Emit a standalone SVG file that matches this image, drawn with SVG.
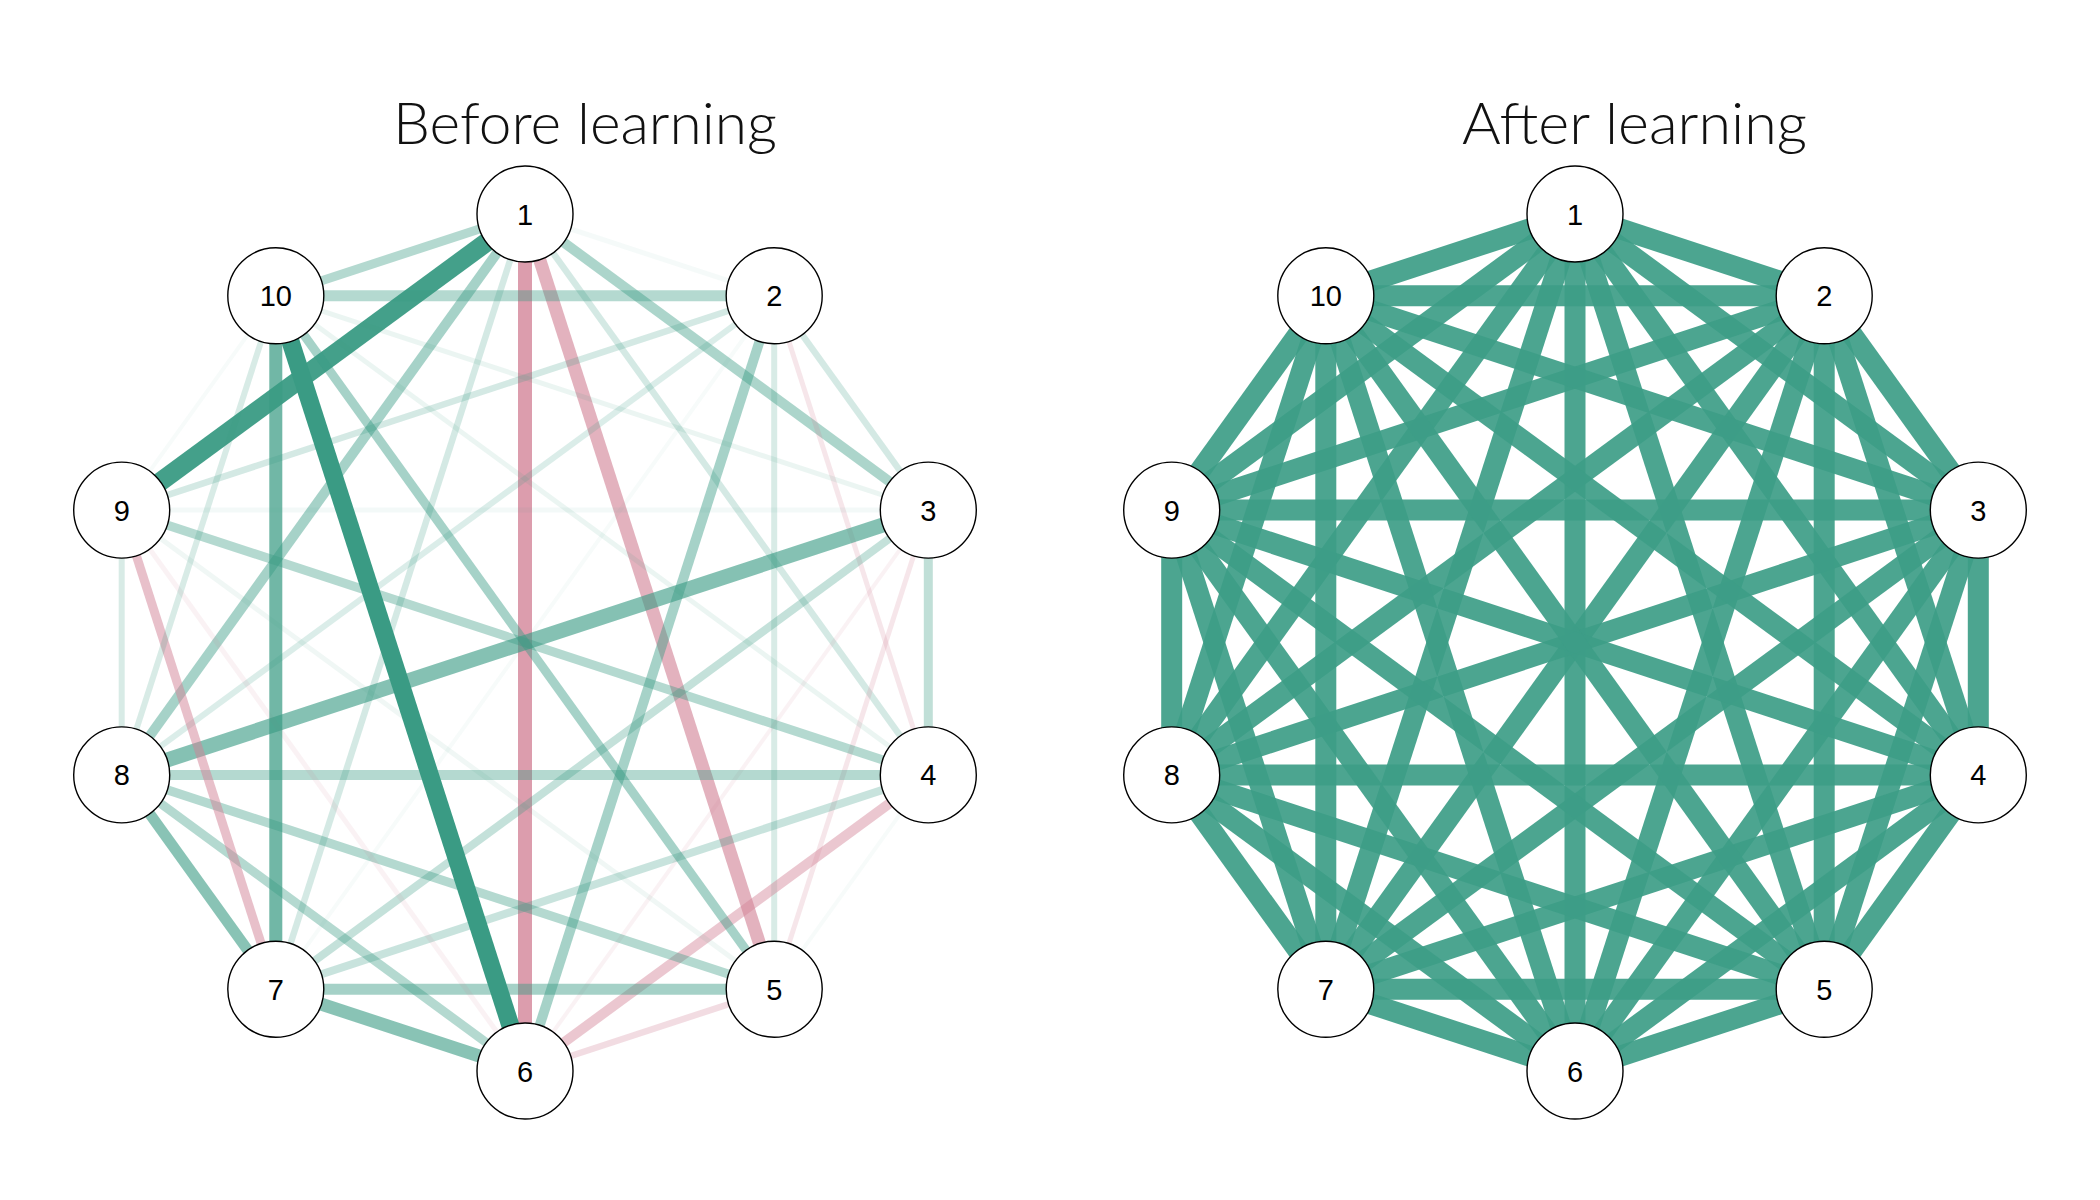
<svg xmlns="http://www.w3.org/2000/svg" width="2100" height="1200" viewBox="0 0 2100 1200">
<style>
.t{font-family:Lato,"Open Sans","DejaVu Sans",sans-serif;font-weight:300;font-size:57px;fill:#111}
.n circle{fill:#fff;stroke:#000;stroke-width:1.4}
.n text{font-family:"Liberation Sans",Arial,sans-serif;font-size:29px;text-anchor:middle;fill:#000}
.g{stroke:#3a9b84;fill:none}
.p{stroke:#d28296;fill:none}
.a{stroke:#3d9d87;stroke-opacity:0.92;stroke-width:21;fill:none}
</style>
<rect width="2100" height="1200" fill="#fff"/>
<text class="t" x="393" y="144" textLength="384" lengthAdjust="spacingAndGlyphs">Before learning</text>
<text class="t" x="1462" y="144" textLength="345" lengthAdjust="spacingAndGlyphs">After learning</text>
<g id="connectors-before">
<line class="g" x1="525" y1="214" x2="774.2" y2="295.8" stroke-opacity="0.05" stroke-width="5"/>
<line class="g" x1="525" y1="214" x2="928.3" y2="510.1" stroke-opacity="0.42" stroke-width="10"/>
<line class="g" x1="525" y1="214" x2="928.3" y2="774.9" stroke-opacity="0.22" stroke-width="6.5"/>
<line class="p" x1="525" y1="214" x2="774.2" y2="989.2" stroke-opacity="0.62" stroke-width="13"/>
<line class="p" x1="525" y1="214" x2="525" y2="1071" stroke-opacity="0.78" stroke-width="14"/>
<line class="g" x1="525" y1="214" x2="275.8" y2="989.2" stroke-opacity="0.22" stroke-width="6.5"/>
<line class="g" x1="525" y1="214" x2="121.7" y2="774.9" stroke-opacity="0.45" stroke-width="10"/>
<line class="g" x1="525" y1="214" x2="121.7" y2="510.1" stroke-opacity="0.95" stroke-width="19"/>
<line class="g" x1="525" y1="214" x2="275.8" y2="295.8" stroke-opacity="0.38" stroke-width="9"/>
<line class="g" x1="774.2" y1="295.8" x2="928.3" y2="510.1" stroke-opacity="0.22" stroke-width="6.5"/>
<line class="p" x1="774.2" y1="295.8" x2="928.3" y2="774.9" stroke-opacity="0.2" stroke-width="5"/>
<line class="g" x1="774.2" y1="295.8" x2="774.2" y2="989.2" stroke-opacity="0.2" stroke-width="6"/>
<line class="g" x1="774.2" y1="295.8" x2="525" y2="1071" stroke-opacity="0.45" stroke-width="10"/>
<line class="g" x1="774.2" y1="295.8" x2="275.8" y2="989.2" stroke-opacity="0.04" stroke-width="4"/>
<line class="g" x1="774.2" y1="295.8" x2="121.7" y2="774.9" stroke-opacity="0.18" stroke-width="6"/>
<line class="g" x1="774.2" y1="295.8" x2="121.7" y2="510.1" stroke-opacity="0.22" stroke-width="6.5"/>
<line class="g" x1="774.2" y1="295.8" x2="275.8" y2="295.8" stroke-opacity="0.38" stroke-width="11"/>
<line class="g" x1="928.3" y1="510.1" x2="928.3" y2="774.9" stroke-opacity="0.32" stroke-width="9"/>
<line class="p" x1="928.3" y1="510.1" x2="774.2" y2="989.2" stroke-opacity="0.2" stroke-width="5"/>
<line class="p" x1="928.3" y1="510.1" x2="525" y2="1071" stroke-opacity="0.1" stroke-width="4"/>
<line class="g" x1="928.3" y1="510.1" x2="275.8" y2="989.2" stroke-opacity="0.3" stroke-width="8"/>
<line class="g" x1="928.3" y1="510.1" x2="121.7" y2="774.9" stroke-opacity="0.62" stroke-width="15"/>
<line class="g" x1="928.3" y1="510.1" x2="121.7" y2="510.1" stroke-opacity="0.06" stroke-width="5"/>
<line class="g" x1="928.3" y1="510.1" x2="275.8" y2="295.8" stroke-opacity="0.1" stroke-width="5"/>
<line class="g" x1="928.3" y1="774.9" x2="774.2" y2="989.2" stroke-opacity="0.04" stroke-width="4"/>
<line class="p" x1="928.3" y1="774.9" x2="525" y2="1071" stroke-opacity="0.45" stroke-width="10"/>
<line class="g" x1="928.3" y1="774.9" x2="275.8" y2="989.2" stroke-opacity="0.28" stroke-width="8"/>
<line class="g" x1="928.3" y1="774.9" x2="121.7" y2="774.9" stroke-opacity="0.38" stroke-width="10"/>
<line class="g" x1="928.3" y1="774.9" x2="121.7" y2="510.1" stroke-opacity="0.38" stroke-width="9"/>
<line class="g" x1="928.3" y1="774.9" x2="275.8" y2="295.8" stroke-opacity="0.1" stroke-width="5"/>
<line class="p" x1="774.2" y1="989.2" x2="525" y2="1071" stroke-opacity="0.28" stroke-width="6.5"/>
<line class="g" x1="774.2" y1="989.2" x2="275.8" y2="989.2" stroke-opacity="0.46" stroke-width="11"/>
<line class="g" x1="774.2" y1="989.2" x2="121.7" y2="774.9" stroke-opacity="0.38" stroke-width="9"/>
<line class="g" x1="774.2" y1="989.2" x2="121.7" y2="510.1" stroke-opacity="0.08" stroke-width="5"/>
<line class="g" x1="774.2" y1="989.2" x2="275.8" y2="295.8" stroke-opacity="0.45" stroke-width="9"/>
<line class="g" x1="525" y1="1071" x2="275.8" y2="989.2" stroke-opacity="0.6" stroke-width="13"/>
<line class="g" x1="525" y1="1071" x2="121.7" y2="774.9" stroke-opacity="0.38" stroke-width="9"/>
<line class="p" x1="525" y1="1071" x2="121.7" y2="510.1" stroke-opacity="0.1" stroke-width="5"/>
<line class="g" x1="525" y1="1071" x2="275.8" y2="295.8" stroke-opacity="1" stroke-width="18"/>
<line class="g" x1="275.8" y1="989.2" x2="121.7" y2="774.9" stroke-opacity="0.6" stroke-width="11"/>
<line class="p" x1="275.8" y1="989.2" x2="121.7" y2="510.1" stroke-opacity="0.5" stroke-width="9"/>
<line class="g" x1="275.8" y1="989.2" x2="275.8" y2="295.8" stroke-opacity="0.72" stroke-width="13"/>
<line class="g" x1="121.7" y1="774.9" x2="121.7" y2="510.1" stroke-opacity="0.2" stroke-width="6"/>
<line class="g" x1="121.7" y1="774.9" x2="275.8" y2="295.8" stroke-opacity="0.2" stroke-width="6"/>
<line class="g" x1="121.7" y1="510.1" x2="275.8" y2="295.8" stroke-opacity="0.04" stroke-width="4"/>
</g>
<g id="connectors-after">
<line class="a" x1="1575" y1="214" x2="1824.2" y2="295.8"/>
<line class="a" x1="1575" y1="214" x2="1978.3" y2="510.1"/>
<line class="a" x1="1575" y1="214" x2="1978.3" y2="774.9"/>
<line class="a" x1="1575" y1="214" x2="1824.2" y2="989.2"/>
<line class="a" x1="1575" y1="214" x2="1575" y2="1071"/>
<line class="a" x1="1575" y1="214" x2="1325.8" y2="989.2"/>
<line class="a" x1="1575" y1="214" x2="1171.7" y2="774.9"/>
<line class="a" x1="1575" y1="214" x2="1171.7" y2="510.1"/>
<line class="a" x1="1575" y1="214" x2="1325.8" y2="295.8"/>
<line class="a" x1="1824.2" y1="295.8" x2="1978.3" y2="510.1"/>
<line class="a" x1="1824.2" y1="295.8" x2="1978.3" y2="774.9"/>
<line class="a" x1="1824.2" y1="295.8" x2="1824.2" y2="989.2"/>
<line class="a" x1="1824.2" y1="295.8" x2="1575" y2="1071"/>
<line class="a" x1="1824.2" y1="295.8" x2="1325.8" y2="989.2"/>
<line class="a" x1="1824.2" y1="295.8" x2="1171.7" y2="774.9"/>
<line class="a" x1="1824.2" y1="295.8" x2="1171.7" y2="510.1"/>
<line class="a" x1="1824.2" y1="295.8" x2="1325.8" y2="295.8"/>
<line class="a" x1="1978.3" y1="510.1" x2="1978.3" y2="774.9"/>
<line class="a" x1="1978.3" y1="510.1" x2="1824.2" y2="989.2"/>
<line class="a" x1="1978.3" y1="510.1" x2="1575" y2="1071"/>
<line class="a" x1="1978.3" y1="510.1" x2="1325.8" y2="989.2"/>
<line class="a" x1="1978.3" y1="510.1" x2="1171.7" y2="774.9"/>
<line class="a" x1="1978.3" y1="510.1" x2="1171.7" y2="510.1"/>
<line class="a" x1="1978.3" y1="510.1" x2="1325.8" y2="295.8"/>
<line class="a" x1="1978.3" y1="774.9" x2="1824.2" y2="989.2"/>
<line class="a" x1="1978.3" y1="774.9" x2="1575" y2="1071"/>
<line class="a" x1="1978.3" y1="774.9" x2="1325.8" y2="989.2"/>
<line class="a" x1="1978.3" y1="774.9" x2="1171.7" y2="774.9"/>
<line class="a" x1="1978.3" y1="774.9" x2="1171.7" y2="510.1"/>
<line class="a" x1="1978.3" y1="774.9" x2="1325.8" y2="295.8"/>
<line class="a" x1="1824.2" y1="989.2" x2="1575" y2="1071"/>
<line class="a" x1="1824.2" y1="989.2" x2="1325.8" y2="989.2"/>
<line class="a" x1="1824.2" y1="989.2" x2="1171.7" y2="774.9"/>
<line class="a" x1="1824.2" y1="989.2" x2="1171.7" y2="510.1"/>
<line class="a" x1="1824.2" y1="989.2" x2="1325.8" y2="295.8"/>
<line class="a" x1="1575" y1="1071" x2="1325.8" y2="989.2"/>
<line class="a" x1="1575" y1="1071" x2="1171.7" y2="774.9"/>
<line class="a" x1="1575" y1="1071" x2="1171.7" y2="510.1"/>
<line class="a" x1="1575" y1="1071" x2="1325.8" y2="295.8"/>
<line class="a" x1="1325.8" y1="989.2" x2="1171.7" y2="774.9"/>
<line class="a" x1="1325.8" y1="989.2" x2="1171.7" y2="510.1"/>
<line class="a" x1="1325.8" y1="989.2" x2="1325.8" y2="295.8"/>
<line class="a" x1="1171.7" y1="774.9" x2="1171.7" y2="510.1"/>
<line class="a" x1="1171.7" y1="774.9" x2="1325.8" y2="295.8"/>
<line class="a" x1="1171.7" y1="510.1" x2="1325.8" y2="295.8"/>
</g>
<g id="before-node-1" class="n"><circle cx="525" cy="214" r="48"/><text x="525" y="224.5">1</text></g>
<g id="before-node-2" class="n"><circle cx="774.2" cy="295.8" r="48"/><text x="774.2" y="306.3">2</text></g>
<g id="before-node-3" class="n"><circle cx="928.3" cy="510.1" r="48"/><text x="928.3" y="520.6">3</text></g>
<g id="before-node-4" class="n"><circle cx="928.3" cy="774.9" r="48"/><text x="928.3" y="785.4">4</text></g>
<g id="before-node-5" class="n"><circle cx="774.2" cy="989.2" r="48"/><text x="774.2" y="999.7">5</text></g>
<g id="before-node-6" class="n"><circle cx="525" cy="1071" r="48"/><text x="525" y="1081.5">6</text></g>
<g id="before-node-7" class="n"><circle cx="275.8" cy="989.2" r="48"/><text x="275.8" y="999.7">7</text></g>
<g id="before-node-8" class="n"><circle cx="121.7" cy="774.9" r="48"/><text x="121.7" y="785.4">8</text></g>
<g id="before-node-9" class="n"><circle cx="121.7" cy="510.1" r="48"/><text x="121.7" y="520.6">9</text></g>
<g id="before-node-10" class="n"><circle cx="275.8" cy="295.8" r="48"/><text x="275.8" y="306.3">10</text></g>
<g id="after-node-1" class="n"><circle cx="1575" cy="214" r="48"/><text x="1575" y="224.5">1</text></g>
<g id="after-node-2" class="n"><circle cx="1824.2" cy="295.8" r="48"/><text x="1824.2" y="306.3">2</text></g>
<g id="after-node-3" class="n"><circle cx="1978.3" cy="510.1" r="48"/><text x="1978.3" y="520.6">3</text></g>
<g id="after-node-4" class="n"><circle cx="1978.3" cy="774.9" r="48"/><text x="1978.3" y="785.4">4</text></g>
<g id="after-node-5" class="n"><circle cx="1824.2" cy="989.2" r="48"/><text x="1824.2" y="999.7">5</text></g>
<g id="after-node-6" class="n"><circle cx="1575" cy="1071" r="48"/><text x="1575" y="1081.5">6</text></g>
<g id="after-node-7" class="n"><circle cx="1325.8" cy="989.2" r="48"/><text x="1325.8" y="999.7">7</text></g>
<g id="after-node-8" class="n"><circle cx="1171.7" cy="774.9" r="48"/><text x="1171.7" y="785.4">8</text></g>
<g id="after-node-9" class="n"><circle cx="1171.7" cy="510.1" r="48"/><text x="1171.7" y="520.6">9</text></g>
<g id="after-node-10" class="n"><circle cx="1325.8" cy="295.8" r="48"/><text x="1325.8" y="306.3">10</text></g>
</svg>
